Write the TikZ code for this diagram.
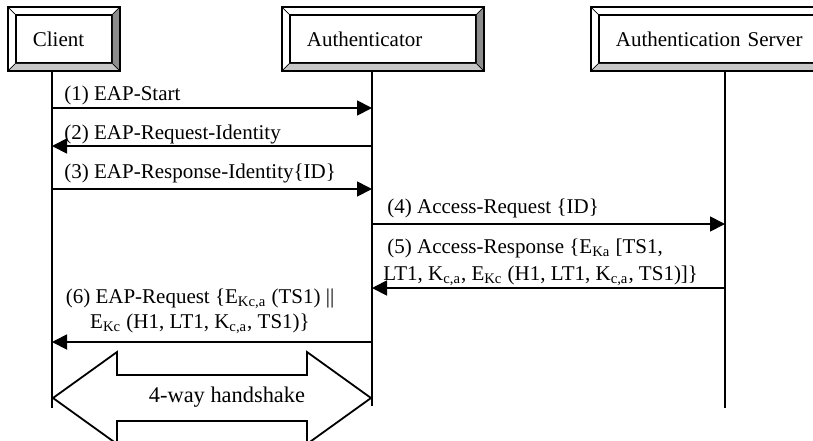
\documentclass[tikz,border=0pt]{standalone}
\usepackage{fontspec}
\setmainfont{Liberation Serif}
\usetikzlibrary{calc}
\usetikzlibrary{arrows.meta}

% raised 3D frame round a participant box
\newcommand{\bevelframe}[1]{%
  \fill[black!45] (#1.north east) -- ([shift={(7,-7)}]#1.north east) -- ([shift={(7,7)}]#1.south east) -- (#1.south east) -- cycle;
  \fill[black!22] (#1.south west) -- ([shift={(-7,7)}]#1.south west) -- ([shift={(7,7)}]#1.south east) -- (#1.south east) -- cycle;
  \draw[line width=0.9pt] ([shift={(-7,-7)}]#1.north west) rectangle ([shift={(7,7)}]#1.south east);
  \draw[line width=0.4pt] ([shift={(-7,-7)}]#1.north west) -- (#1.north west)
    ([shift={(7,-7)}]#1.north east) -- (#1.north east)
    ([shift={(7,7)}]#1.south east) -- (#1.south east)
    ([shift={(-7,7)}]#1.south west) -- (#1.south west);
}

\begin{document}
\begin{tikzpicture}[x=0.5pt, y=-0.5pt,
    entity/.style={draw, line width=0.9pt, fill=white, anchor=west, align=left, minimum height=24pt, inner xsep=8.5pt, inner ysep=0pt, font=\fontsize{10.5}{12.5}\selectfont},
    lifeline/.style={line width=0.9pt},
    msg/.style={line width=0.9pt, -{Triangle[length=7.5pt, width=7.5pt]}},
    msgtext/.style={inner sep=0pt, font=\fontsize{10.5}{12.5}\selectfont}]
    \clip (0,0) rectangle (813,440);

    % lifelines
    \coordinate (clientEnd) at (52,408);
    \coordinate (authEnd) at (372,406);
    \coordinate (serverEnd) at (725,408);

    \node[entity, text width=31pt] (client) at (15,39) {Client};
    \node[entity, text width=76pt] (auth) at (289,39) {Authenticator};
    \node[entity, text width=123pt] (server) at (598,39) {Authentication Server};

    \draw[lifeline] ($(client.south -| clientEnd)+(0,7)$) -- (clientEnd);
    \draw[lifeline] ($(auth.south -| authEnd)+(0,7)$) -- (authEnd);
    \draw[lifeline] ($(server.south -| serverEnd)+(0,7)$) -- (serverEnd);

    \bevelframe{client}
    \bevelframe{auth}
    \bevelframe{server}

    % message levels
    \foreach \n/\y in {1/108, 2/146, 3/189, 4/224, 5/288, 6/342} {
        \coordinate (c\n) at (52,\y);
        \coordinate (a\n) at (372,\y);
        \coordinate (s\n) at (725,\y);
    }

    \draw[msg] (c1) -- (a1);
    \draw[msg] (a2) -- (c2);
    \draw[msg] (c3) -- (a3);
    \draw[msg] (a4) -- (s4);
    \draw[msg] (s5) -- (a5);
    \draw[msg] (a6) -- (c6);

    \node[msgtext, anchor=base west] (text1) at (64,100) {(1) EAP-Start};
    \node[msgtext, anchor=base west] (text2) at (64,139) {(2) EAP-Request-Identity};
    \node[msgtext, anchor=base west] (text3) at (64,178) {(3) EAP-Response-Identity\{ID\}};
    \node[msgtext, anchor=base west] (text4) at (387,213) {(4) Access-Request \{ID\}};
    \node[msgtext, anchor=base west, align=left] (text5) at (383,280)
        {\hspace{2pt}(5) Access-Response \{E\textsubscript{Ka} [TS1,\\[1pt]
         LT1, K\textsubscript{c,a}, E\textsubscript{Kc} (H1, LT1, K\textsubscript{c,a}, TS1)]\}};
    \node[msgtext, anchor=base, align=center] (text6) at (200,328)
        {(6) EAP-Request \{E\textsubscript{Kc,a} (TS1) \textbar\textbar\\
         E\textsubscript{Kc} (H1, LT1, K\textsubscript{c,a}, TS1)\}};

    % handshake double arrow
    \coordinate (hsLeft) at (53,398);
    \coordinate (hsRight) at (371,398);
    \draw[line width=0.9pt, line join=miter] (hsLeft) -- ++(64,-46) -- ++(0,23) -- ++(190,0) -- ++(0,-23)
        -- (hsRight) -- ++(-64,46) -- ++(0,-23) -- ++(-190,0) -- ++(0,23) -- cycle;
    \node[msgtext, font=\fontsize{11.2}{13}\selectfont] (hsText) at (227,397) {4-way handshake};
\end{tikzpicture}
\end{document}
